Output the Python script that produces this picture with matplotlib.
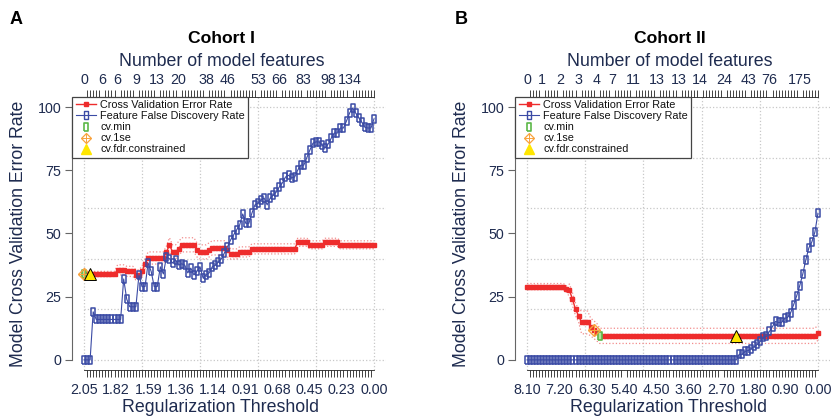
import numpy as np
import matplotlib
matplotlib.use('Agg')
import matplotlib.pyplot as plt
from matplotlib.lines import Line2D

plt.rcParams['font.family'] = ['Liberation Sans', 'DejaVu Sans']

W, H = 832, 418
NAVY = '#1E2B4F'
RED = '#EE2C2C'
BLUE = '#3B4BA5'
GREEN = '#5CB848'
ORANGE = '#F9A23C'
YELLOW = '#FFE600'
GRID = '#C8C8C8'

# ---- Cohort I ----
thr_labels_a = ['2.05', '1.82', '1.59', '1.36', '1.14', '0.91', '0.68', '0.45', '0.23', '0.00']
feat_labels_a = ['0', '6', '6', '9', '13', '20', '38', '46', '53', '66', '83', '98', '134']
feat_idx_a = [0, 6, 11, 17, 24, 31, 40, 47, 57, 64, 72, 80, 87]
# cross validation error, stored as runs of equal values
cv_levels_a = [34, 35.6, 35, 33.6, 35, 38, 40.3, 42.6, 45.5, 42.7, 44, 45.5, 43.5, 42.7,
               43.5, 44.3, 43.5, 41.9, 42.7, 43.9, 46.5, 45.5, 46.5, 45.5]
cv_runs_a = [11, 3, 3, 2, 1, 1, 6, 1, 1, 2, 1, 5, 1, 3, 1, 5, 1, 3, 4, 15, 4, 5, 5, 12]
se_levels_a = [1.0, 2.0, 2.4, 2.8, 2.0, 1.6]
se_runs_a = [11, 10, 7, 20, 22, 26]
fdr_a = [0, 0, 0, 19, 16, 16, 16, 16, 16, 16, 16, 16, 16,
         32, 24, 21, 21, 21,
         33.6, 29, 29, 38.3, 35, 29, 29, 36.8, 34, 40.7, 40, 38.3, 39.5, 37.5,
         38, 37.5, 34.4, 36.3, 33.6, 35, 36.8, 32.4, 33.6, 34.4, 36.8, 37.5, 38.7, 40,
         42.3, 44.7, 47.4, 49.4, 51.4, 53.4, 57.7, 54, 54, 58, 61.3, 62, 63.2, 64, 61.3,
         64, 65.2, 66.4, 68.4, 70,
         72.3, 73, 72, 72.3, 75, 77, 77, 80, 83, 85.7, 86.2, 86.2, 85, 83.8, 85.4, 87.7,
         89.7, 89.7, 91.7, 91.7, 94.5, 97.6, 99.6, 97.6, 95.7, 94, 92, 91.7, 91.7, 95.3]
cvmin_a, cv1se_a, fdrc_a = 0, 0, 2

# ---- Cohort II ----
thr_labels_b = ['8.10', '7.20', '6.30', '5.40', '4.50', '3.60', '2.70', '1.80', '0.90', '0.00']
feat_labels_b = ['0', '1', '2', '3', '4', '7', '11', '13', '13', '14', '24', '43', '76', '175']
feat_idx_b = [0, 5, 11, 17, 23, 28, 35, 43, 50, 57, 65, 73, 80, 90]
cv_levels_b = [29, 28, 27.5, 24, 20, 17.5, 14.8, 13, 12, 11, 9.5, 10.8]
cv_runs_b = [13, 1, 1, 1, 1, 1, 3, 1, 1, 1, 72, 1]
se_levels_b = [1.2, 2.5, 4.5, 3.5, 3.0]
se_runs_b = [14, 4, 3, 3, 73]
fdr_b = [0.0] * 70 + [2.2, 2.2, 3.4, 3.7, 4.5, 5.3, 6.1, 7.3, 8.9, 9.3, 11.3, 13.2, 15.2,
                      14.8, 14.8, 16.4, 16.8, 18.7, 21.9, 25.4, 29.4, 34, 39.6, 44.3,
                      46.7, 50.6, 58]
cvmin_b, cv1se_b, fdrc_b = 24, 22, 69

BOX = [(-0.25, -0.5), (0.25, -0.5), (0.25, 0.5), (-0.25, 0.5), (-0.25, -0.5)]


def fx(x):
    return x / W


def fy(y):
    return 1 - y / H


def draw_panel(ax, cv, se, fdr, thr_labels, feat_labels, feat_idx, i_min, i_1se, i_fdr):
    n = len(cv)
    x = np.arange(n)
    xlim = (-0.04 * (n - 1), 1.04 * (n - 1))
    ax.set_xlim(xlim)
    ax.set_ylim(-4, 104)

    for g in np.linspace(0, n - 1, 6):
        ax.plot([g, g], [-4, 104], ls=':', color=GRID, lw=0.9, zorder=0)
    for g in range(0, 101, 20):
        ax.plot([0, xlim[1]], [g, g], ls=':', color=GRID, lw=0.9, zorder=0)

    ax.plot(x, cv + se, ls=':', color='#F28C8C', lw=0.9, zorder=2)
    ax.plot(x, cv - se, ls=':', color='#F28C8C', lw=0.9, zorder=2)
    ax.plot(x, cv, '-', color=RED, lw=1.0, marker='s', ms=2.8, zorder=3)
    ax.plot(x, fdr, '-', color=BLUE, lw=0.8, marker=BOX, ms=6.0, mfc='none',
            mec=BLUE, mew=1.1, zorder=4)

    ax.plot(x[i_min], cv[i_min], marker=BOX, ms=6.0, mfc='#B5E2A0', mec=GREEN,
            mew=1.2, ls='none', zorder=5)
    ax.plot(x[i_1se], cv[i_1se], marker='D', ms=6.0, mfc='none', mec=ORANGE,
            mew=1.0, ls='none', zorder=5)
    ax.plot(x[i_1se], cv[i_1se], marker='+', ms=8.5, mec=ORANGE, mew=0.8,
            ls='none', zorder=5)
    ax.plot(x[i_fdr], cv[i_fdr], marker='^', ms=8, mfc=YELLOW, mec='black',
            mew=0.7, ls='none', zorder=6)

    # axes
    for s in ['top', 'right']:
        ax.spines[s].set_visible(False)
    ax.spines['left'].set_bounds(0, 100)
    ax.spines['left'].set_color('#666666')
    ax.spines['bottom'].set_bounds(0, n - 1)
    ax.spines['bottom'].set_color('#222222')
    ax.spines['bottom'].set_linewidth(0.6)

    ax.set_yticks([0, 25, 50, 75, 100])
    ax.tick_params(axis='y', length=5, width=0.8, color='#666666',
                   labelcolor=NAVY, labelsize=10.3, pad=3)
    ax.set_xticks(np.linspace(0, n - 1, 10))
    ax.set_xticklabels(thr_labels)
    ax.set_xticks(x, minor=True)
    ax.tick_params(axis='x', which='major', length=0, pad=9.5,
                   labelcolor=NAVY, labelsize=10.3)
    ax.tick_params(axis='x', which='minor', length=5, width=0.6, color='#222222')

    top = ax.twiny()
    top.set_xlim(xlim)
    for s in ['left', 'right', 'bottom']:
        top.spines[s].set_visible(False)
    top.spines['top'].set_bounds(0, n - 1)
    top.spines['top'].set_color('#222222')
    top.spines['top'].set_linewidth(0.6)
    top.set_xticks(feat_idx)
    top.set_xticklabels(feat_labels)
    top.set_xticks(x, minor=True)
    top.tick_params(axis='x', which='major', length=0, pad=7,
                    labelcolor=NAVY, labelsize=10.3)
    top.tick_params(axis='x', which='minor', length=5, width=0.6, color='#222222')

    handles = [
        Line2D([], [], color=RED, lw=1.0, marker='s', ms=2.8),
        Line2D([], [], color=BLUE, lw=0.8, marker=BOX, ms=5.5, mfc='none', mew=1.0),
        Line2D([], [], ls='none', marker=BOX, ms=5.5, mfc='none', mec=GREEN, mew=1.2),
        (Line2D([], [], ls='none', marker='D', ms=5.5, mfc='none', mec=ORANGE, mew=0.9),
         Line2D([], [], ls='none', marker='+', ms=7.5, mec=ORANGE, mew=0.7)),
        Line2D([], [], ls='none', marker='^', ms=7.5, mfc=YELLOW, mec=YELLOW),
    ]
    labels = ['Cross Validation Error Rate', 'Feature False Discovery Rate',
              'cv.min', 'cv.1se', 'cv.fdr.constrained']
    leg = top.legend(handles, labels, loc='upper left', bbox_to_anchor=(0, 1),
                     borderaxespad=0, fontsize=7.8, frameon=True, fancybox=False,
                     framealpha=1, edgecolor='#444444', handlelength=1.9,
                     handletextpad=0.35, labelspacing=0.1, borderpad=0.3)
    leg.get_frame().set_linewidth(0.9)
    leg.set_zorder(10)
    for t in leg.get_texts():
        t.set_color('#111111')


fig = plt.figure(figsize=(W / 100, H / 100), dpi=100)

axA = fig.add_axes([fx(72.4), fy(370), fx(385.6 - 72.4), (370 - 96.9) / H])
axB = fig.add_axes([fx(515.4), fy(370), fx(829.6 - 515.4), (370 - 96.9) / H])

draw_panel(axA, np.repeat(cv_levels_a, cv_runs_a), np.repeat(se_levels_a, se_runs_a),
           np.array(fdr_a), thr_labels_a, feat_labels_a, feat_idx_a,
           cvmin_a, cv1se_a, fdrc_a)
draw_panel(axB, np.repeat(cv_levels_b, cv_runs_b), np.repeat(se_levels_b, se_runs_b),
           np.array(fdr_b), thr_labels_b, feat_labels_b, feat_idx_b,
           cvmin_b, cv1se_b, fdrc_b)

for letter, lx, title, cx, ylx in [('A', 16, 'Cohort I', 221.5, 18.5),
                                   ('B', 461, 'Cohort II', 670, 461)]:
    fig.text(fx(lx), fy(20), letter, fontsize=13, fontweight='bold',
             ha='center', va='center')
    fig.text(fx(cx), fy(38.5), title, fontsize=12.6, fontweight='bold',
             ha='center', va='center')
    fig.text(fx(cx), fy(62), 'Number of model features', fontsize=12.8,
             color=NAVY, ha='center', va='center')
    fig.text(fx(cx - 1), fy(408), 'Regularization Threshold', fontsize=12.8,
             color=NAVY, ha='center', va='center')

fig.text(fx(18.5), fy(234), 'Model Cross Validation Error Rate', fontsize=12.7,
         color=NAVY, rotation=90, ha='center', va='center')
fig.text(fx(461), fy(234), 'Model Cross Validation Error Rate', fontsize=12.7,
         color=NAVY, rotation=90, ha='center', va='center')

fig.savefig('out.png', dpi=100)
